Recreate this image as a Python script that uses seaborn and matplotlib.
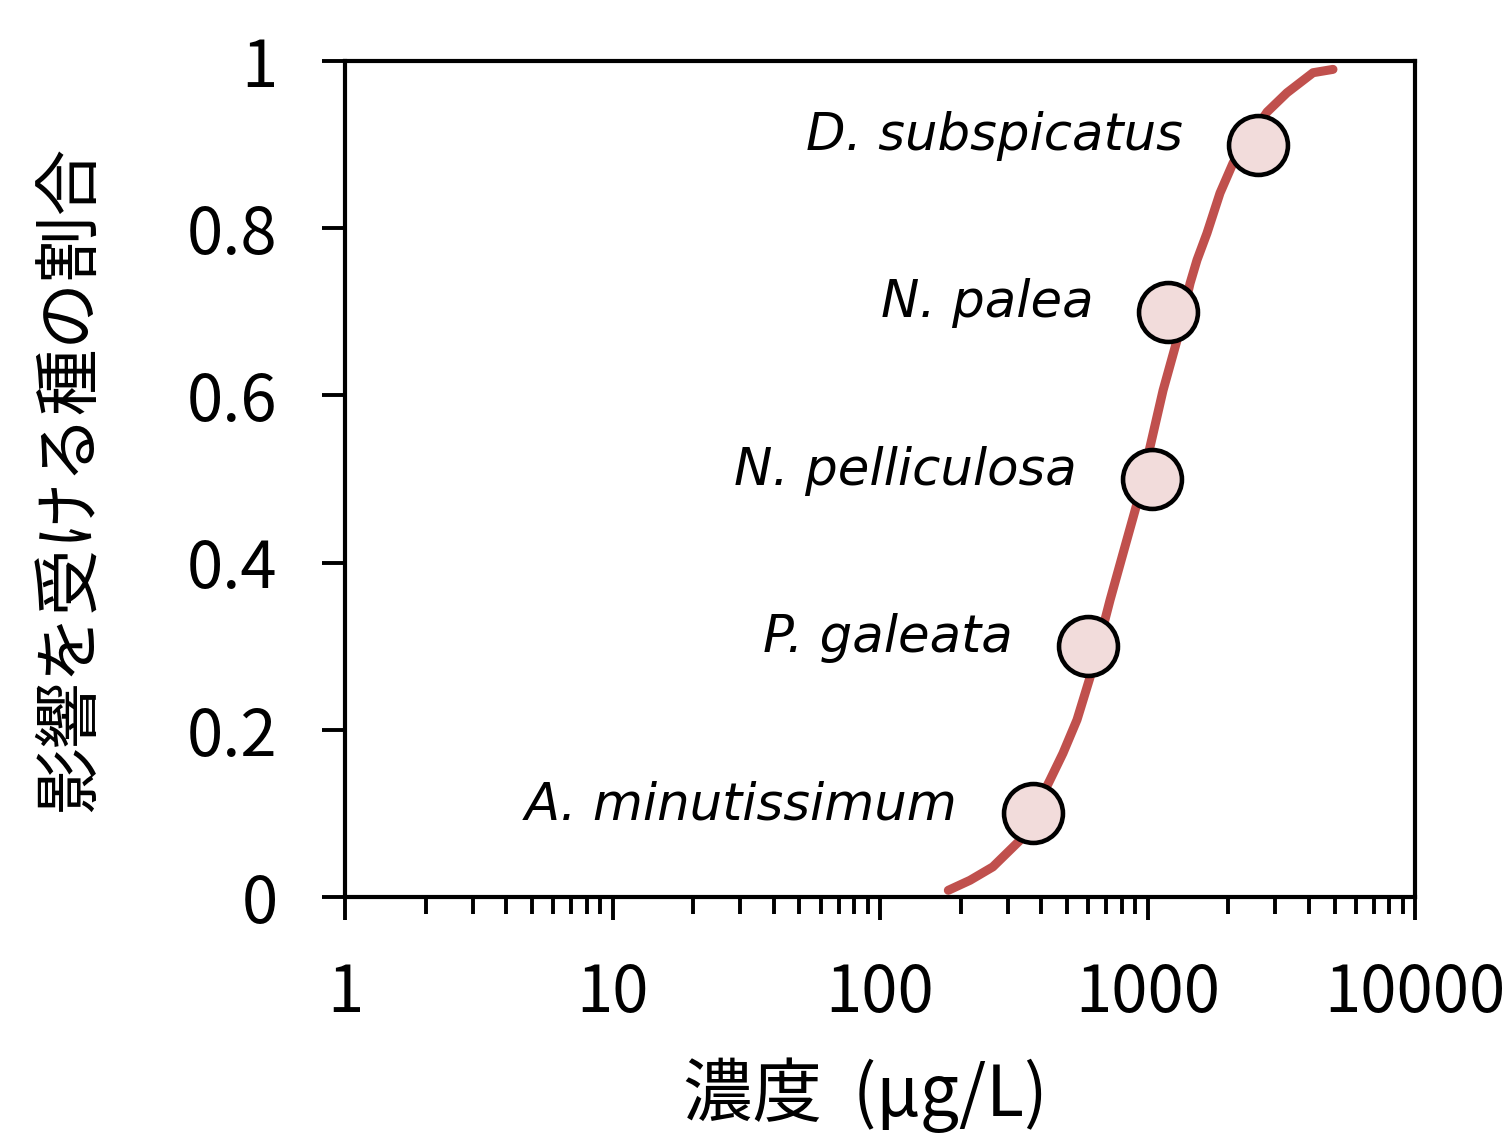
import matplotlib
matplotlib.use('Agg')
import matplotlib.pyplot as plt
import matplotlib.ticker as mticker
import seaborn as sns
import pandas as pd

# 曲線
curve_conc = [180, 217, 264, 334, 432, 483, 545, 610, 724, 810, 914, 1021, 1143,
              1289, 1442, 1531, 1668, 1866, 2088, 2798, 3321, 4156, 4935]
curve_frac = [0.008, 0.020, 0.036, 0.068, 0.140, 0.172, 0.212, 0.263, 0.355, 0.411,
              0.471, 0.538, 0.606, 0.666, 0.734, 0.762, 0.794, 0.842, 0.878, 0.939,
              0.962, 0.986, 0.990]

# 種ごとの点
species = ['A. minutissimum', 'P. galeata', 'N. pelliculosa', 'N. palea', 'D. subspicatus']
sp_conc = [373, 599, 1040, 1194, 2588]
sp_frac = [0.1, 0.3, 0.5, 0.7, 0.9]

y_ticks = [0, 0.2, 0.4, 0.6, 0.8, 1]
y_ticklabels = ['0', '0.2', '0.4', '0.6', '0.8', '1']
x_ticks = [1, 10, 100, 1000, 10000]
x_ticklabels = ['1', '10', '100', '1000', '10000']

df_curve = pd.DataFrame({'conc': curve_conc, 'frac': curve_frac})
df_sp = pd.DataFrame({'species': species, 'conc': sp_conc, 'frac': sp_frac})

sns.set_theme(style='ticks')
plt.rcParams['font.family'] = ['Noto Sans CJK JP', 'DejaVu Sans']
plt.rcParams['text.color'] = 'black'
plt.rcParams['axes.labelcolor'] = 'black'
plt.rcParams['xtick.color'] = 'black'
plt.rcParams['ytick.color'] = 'black'

fig = plt.figure(figsize=(15.02, 11.34), dpi=100)
ax = fig.add_axes([0.2297, 0.209, 0.7124, 0.7372])

sns.lineplot(data=df_curve, x='conc', y='frac', ax=ax, color='#C0504D',
             lw=6.5, estimator=None, sort=False, zorder=2)
for ln in ax.lines:
    ln.set_linewidth(6.5)
    ln.set_solid_capstyle('round')
    ln.set_solid_joinstyle('round')

sns.scatterplot(data=df_sp, x='conc', y='frac', ax=ax, s=1800, color='#F2DCDB',
                edgecolor='black', linewidth=3.3, zorder=3)
ax.collections[-1].set_linewidth(3.3)

for name, x, y in zip(species, sp_conc, sp_frac):
    ax.annotate(name, (x, y), xytext=(-54, 6), textcoords='offset points',
                ha='right', va='center', fontsize=37, style='italic',
                family='DejaVu Sans', color='black')

ax.set_xscale('log')
ax.set_xlim(1, 10000)
ax.set_ylim(0, 1)
ax.set_xticks(x_ticks)
ax.set_xticklabels(x_ticklabels)
ax.xaxis.set_minor_locator(mticker.LogLocator(base=10, subs=range(2, 10)))
ax.xaxis.set_minor_formatter(mticker.NullFormatter())
ax.set_yticks(y_ticks)
ax.set_yticklabels(y_ticklabels)

for s in ax.spines.values():
    s.set_linewidth(3)
    s.set_color('black')

ax.tick_params(axis='x', which='major', length=16.5, width=2.8, labelsize=47, pad=29)
ax.tick_params(axis='x', which='minor', length=12, width=2.8)
ax.tick_params(axis='y', which='major', length=16.5, width=2.8, labelsize=47, pad=32)

ax.set_xlabel('濃度  (μg/L)', fontsize=50)
ax.xaxis.set_label_coords(0.486, -0.192)
ax.set_ylabel('影響を受ける種の割合', fontsize=48, labelpad=60)

fig.savefig('out.png', dpi=100)
